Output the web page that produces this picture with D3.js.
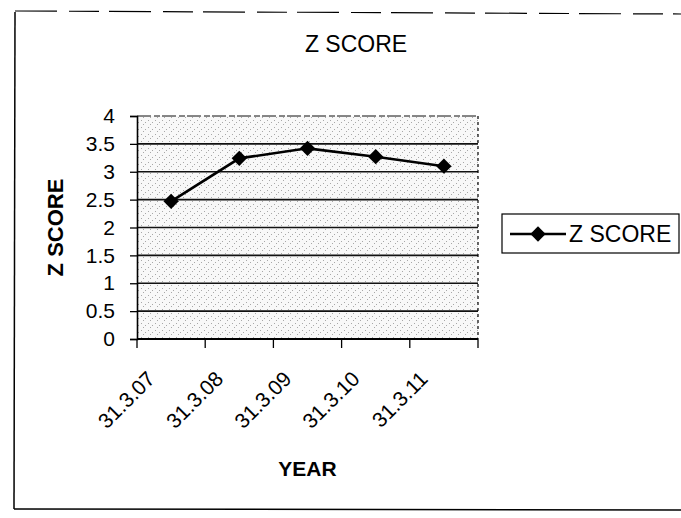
<!DOCTYPE html>
<html>
<head>
<meta charset="utf-8">
<script src="https://cdn.jsdelivr.net/npm/d3@7"></script>
<style>
  body { margin: 0; background: #fff; }
  text { font-family: "Liberation Sans", Arial, sans-serif; fill: #000; }
</style>
</head>
<body>
<div id="chart"></div>
<script>
// values
const years = ["31.3.07", "31.3.08", "31.3.09", "31.3.10", "31.3.11"];
const zScore = [2.47, 3.24, 3.42, 3.27, 3.1];
const yTicks = [0, 0.5, 1, 1.5, 2, 2.5, 3, 3.5, 4];

var width = 681;
var height = 518;
var plot = { left: 137, right: 478, top: 116, bottom: 339 };

const svg = d3.select("#chart")
  .append("svg")
  .attr("width", width)
  .attr("height", height);

// speckled grey plot fill, like the scanned excel pattern
const defs = svg.append("defs");
const pat = defs.append("pattern")
  .attr("id", "speckle")
  .attr("width", 7)
  .attr("height", 7)
  .attr("patternUnits", "userSpaceOnUse");
pat.append("rect").attr("width", 7).attr("height", 7).attr("fill", "#f8f8f8");
[[1, 1], [5, 3], [3, 5]].forEach(([px, py]) => {
  pat.append("rect").attr("x", px).attr("y", py)
    .attr("width", 1).attr("height", 1).attr("fill", "#a8a8a8");
});

// chart area border (right side runs off the page)
svg.append("line")
  .attr("x1", 15).attr("y1", 12).attr("x2", 14).attr("y2", 509)
  .attr("stroke", "#000").attr("stroke-width", 1.5);
svg.append("line")
  .attr("x1", 14).attr("y1", 509).attr("x2", 681).attr("y2", 510)
  .attr("stroke", "#000").attr("stroke-width", 1.5);
svg.append("line")
  .attr("x1", 15).attr("y1", 11).attr("x2", 681).attr("y2", 14)
  .attr("stroke", "#000").attr("stroke-width", 1.2)
  .attr("stroke-dasharray", "42 12 30 10");

const x = d3.scaleBand()
  .domain(years)
  .range([plot.left, plot.right]);

const y = d3.scaleLinear()
  .domain([0, 4])
  .range([plot.bottom, plot.top]);

svg.append("rect")
  .attr("x", plot.left)
  .attr("y", plot.top)
  .attr("width", plot.right - plot.left)
  .attr("height", plot.bottom - plot.top)
  .attr("fill", "url(#speckle)");

// gridlines
svg.append("g")
  .selectAll("line")
  .data(yTicks.filter(d => d > 0))
  .join("line")
  .attr("x1", plot.left)
  .attr("x2", plot.right)
  .attr("y1", d => y(d))
  .attr("y2", d => y(d))
  .attr("stroke", "#111")
  .attr("stroke-width", d => d === 4 ? 1.2 : 1.6)
  .attr("stroke-dasharray", d => d === 4 ? "14 3 6 2" : null);

// dotted right edge of plot area
svg.append("line")
  .attr("x1", plot.right).attr("x2", plot.right)
  .attr("y1", plot.top).attr("y2", plot.bottom)
  .attr("stroke", "#000").attr("stroke-width", 1.2)
  .attr("stroke-dasharray", "3 3");

// y axis
const yAxis = svg.append("g")
  .attr("transform", `translate(${plot.left},0)`)
  .call(d3.axisLeft(y).tickValues(yTicks).tickSize(7).tickPadding(15).tickFormat(d3.format("")));
yAxis.select(".domain").attr("stroke", "#000").attr("stroke-width", 1.6);
yAxis.selectAll(".tick line").attr("stroke", "#000").attr("stroke-width", 1.3);
yAxis.selectAll(".tick text")
  .attr("font-size", 21)
  .attr("font-family", "Liberation Sans, Arial, sans-serif")
  .attr("fill", "#000");

// x axis, ticks between categories
const xAxis = svg.append("g")
  .attr("transform", `translate(0,${plot.bottom})`);
xAxis.append("line")
  .attr("x1", plot.left).attr("x2", plot.right)
  .attr("stroke", "#000").attr("stroke-width", 1.8);
const bounds = years.map(d => x(d)).concat([plot.right]);
xAxis.selectAll("line.tick")
  .data(bounds)
  .join("line")
  .attr("class", "tick")
  .attr("x1", d => d).attr("x2", d => d)
  .attr("y1", 0).attr("y2", 9)
  .attr("stroke", "#000").attr("stroke-width", 1.3);
xAxis.selectAll("text")
  .data(years)
  .join("text")
  .attr("transform", d => `translate(${x(d) + x.bandwidth() / 2 - 20},36) rotate(-45)`)
  .attr("text-anchor", "end")
  .attr("dy", "0.35em")
  .attr("font-size", 21)
  .text(d => d);

// series line and diamond markers
const line = d3.line()
  .x((d, i) => x(years[i]) + x.bandwidth() / 2)
  .y(d => y(d));

svg.append("path")
  .datum(zScore)
  .attr("d", line)
  .attr("fill", "none")
  .attr("stroke", "#000")
  .attr("stroke-width", 2.6);

const diamond = d3.symbol().type(d3.symbolDiamond2).size(150);
svg.append("g")
  .selectAll("path")
  .data(zScore)
  .join("path")
  .attr("transform", (d, i) => `translate(${x(years[i]) + x.bandwidth() / 2},${y(d)})`)
  .attr("d", diamond)
  .attr("fill", "#000");

// titles
svg.append("text")
  .attr("x", 356)
  .attr("y", 52)
  .attr("text-anchor", "middle")
  .attr("font-size", 23)
  .text("Z SCORE");

svg.append("text")
  .attr("transform", `translate(63,${(plot.top + plot.bottom) / 2}) rotate(-90)`)
  .attr("text-anchor", "middle")
  .attr("font-size", 22)
  .attr("font-weight", "bold")
  .text("Z SCORE");

svg.append("text")
  .attr("x", (plot.left + plot.right) / 2)
  .attr("y", 476)
  .attr("text-anchor", "middle")
  .attr("font-size", 21)
  .attr("font-weight", "bold")
  .text("YEAR");

// legend
const legend = svg.append("g").attr("transform", "translate(502,214)");
legend.append("rect")
  .attr("width", 177)
  .attr("height", 39)
  .attr("fill", "#fff")
  .attr("stroke", "#000")
  .attr("stroke-width", 1.2);
legend.append("line")
  .attr("x1", 8).attr("x2", 64)
  .attr("y1", 20).attr("y2", 20)
  .attr("stroke", "#000").attr("stroke-width", 2.6);
legend.append("path")
  .attr("transform", "translate(36,20)")
  .attr("d", diamond)
  .attr("fill", "#000");
legend.append("text")
  .attr("x", 67)
  .attr("y", 20)
  .attr("dy", "0.36em")
  .attr("font-size", 23)
  .text("Z SCORE");
</script>
</body>
</html>
